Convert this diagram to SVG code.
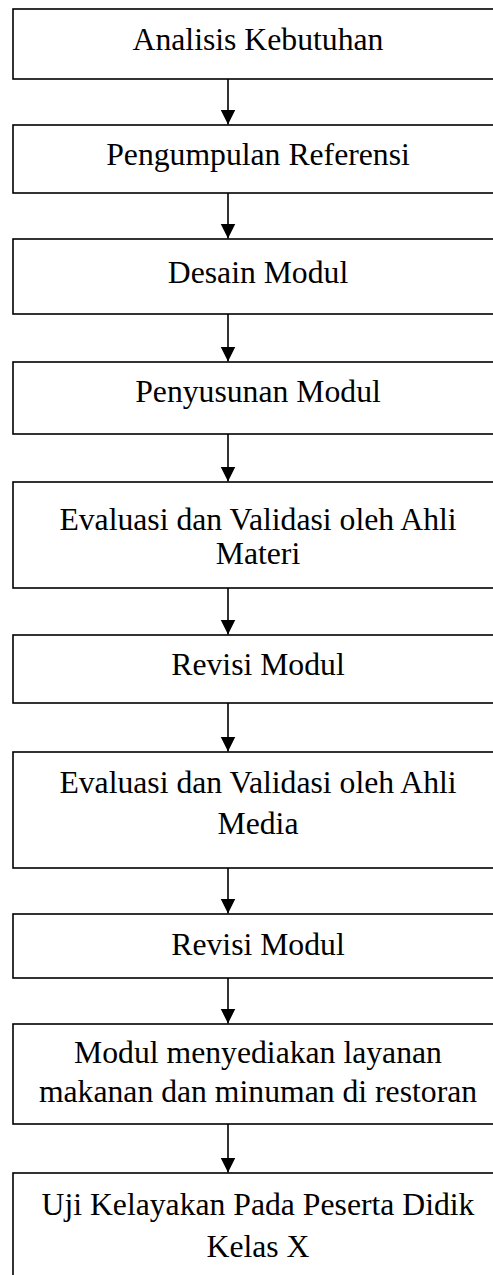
<svg xmlns="http://www.w3.org/2000/svg" width="493" height="1275" viewBox="0 0 493 1275">
<style>
.box{fill:#fff;stroke:#000;stroke-width:1.6}
.t{font-family:"Liberation Serif","Times New Roman",serif;font-size:31.7px;fill:#000;text-anchor:middle}
.c{stroke:#000;stroke-width:1.6;fill:none;marker-end:url(#ah)}
</style>
<defs>
<marker id="ah" markerUnits="userSpaceOnUse" markerWidth="16" markerHeight="16" refX="15" refY="7.5" orient="auto">
<path d="M0,0 L15,7.5 L0,15 z" fill="#000"/>
</marker>
</defs>
<rect width="493" height="1275" fill="#fff"/>
<g id="n1"><rect class="box" x="13" y="9" width="490" height="70"/><text class="t" x="258" y="50">Analisis Kebutuhan</text></g>
<g id="n2"><rect class="box" x="13" y="125" width="490" height="68"/><text class="t" x="258" y="165">Pengumpulan Referensi</text></g>
<g id="n3"><rect class="box" x="13" y="239" width="490" height="75"/><text class="t" x="258" y="283">Desain Modul</text></g>
<g id="n4"><rect class="box" x="13" y="362" width="490" height="72"/><text class="t" x="258" y="402">Penyusunan Modul</text></g>
<g id="n5"><rect class="box" x="13" y="482" width="490" height="106"/><text class="t" x="258" y="530">Evaluasi dan Validasi oleh Ahli</text><text class="t" x="258" y="564">Materi</text></g>
<g id="n6"><rect class="box" x="13" y="635" width="490" height="68"/><text class="t" x="258" y="675">Revisi Modul</text></g>
<g id="n7"><rect class="box" x="13" y="752" width="490" height="116"/><text class="t" x="258" y="793">Evaluasi dan Validasi oleh Ahli</text><text class="t" x="258" y="834">Media</text></g>
<g id="n8"><rect class="box" x="13" y="914" width="490" height="64"/><text class="t" x="258" y="955">Revisi Modul</text></g>
<g id="n9"><rect class="box" x="13" y="1024" width="490" height="100"/><text class="t" x="258" y="1063">Modul menyediakan layanan</text><text class="t" x="258" y="1102">makanan dan minuman di restoran</text></g>
<g id="n10"><rect class="box" x="13" y="1173" width="490" height="120"/><text class="t" x="258" y="1215">Uji Kelayakan Pada Peserta Didik</text><text class="t" x="258" y="1257">Kelas X</text></g>
<g id="connectors">
<line class="c" x1="228" y1="79" x2="228" y2="124.5"/>
<line class="c" x1="228" y1="193" x2="228" y2="238.5"/>
<line class="c" x1="228" y1="314" x2="228" y2="361.5"/>
<line class="c" x1="228" y1="434" x2="228" y2="481.5"/>
<line class="c" x1="228" y1="588" x2="228" y2="634.5"/>
<line class="c" x1="228" y1="703" x2="228" y2="751.5"/>
<line class="c" x1="228" y1="868" x2="228" y2="913.5"/>
<line class="c" x1="228" y1="978" x2="228" y2="1023.5"/>
<line class="c" x1="228" y1="1124" x2="228" y2="1172.5"/>
</g>
</svg>
